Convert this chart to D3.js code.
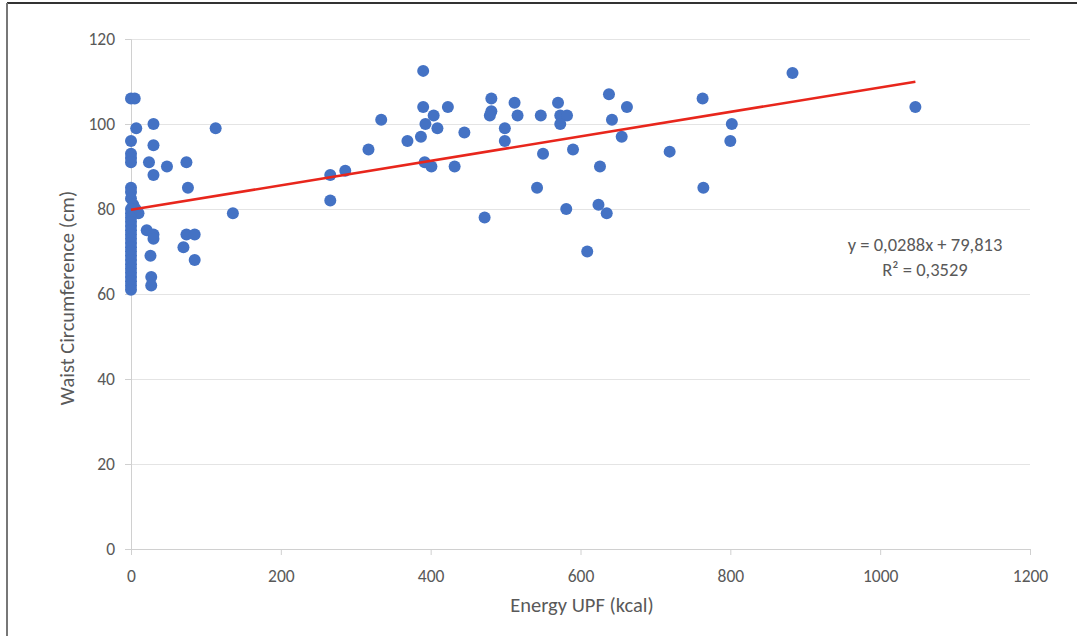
<!DOCTYPE html>
<html>
<head>
<meta charset="utf-8">
<script src="https://cdn.jsdelivr.net/npm/d3@7"></script>
<style>
  body { margin: 0; background: #fff; }
  text { font-family: Carlito, "Liberation Sans Narrow", "Open Sans", sans-serif; fill: #595959; }
</style>
</head>
<body>
<div id="chart"></div>
<script>
// energy from UPF (kcal) and waist circumference (cm)
var energy = [
  0, 5, 7, 0, 0, 0, 0, 0, 0, 0, 3, 6, 10,
  0, 0, 0, 0, 0, 0, 0, 0, 0, 0, 0, 0, 0, 0, 0, 0, 0, 0, 0, 0,
  30, 30, 24, 30, 48, 74, 76, 113, 136,
  21, 30, 30, 74, 85, 70, 85, 26, 27, 27,
  266, 286, 266, 317, 334, 369, 387, 390, 390, 404, 393, 409, 423, 445, 392, 401, 432,
  472, 481, 481, 479, 512, 516, 499, 499, 547, 550, 542, 570, 573, 582, 573, 590, 581,
  638, 662, 642, 655, 626, 624, 635, 609, 719, 763, 802, 800, 764, 883, 1047
];
var waist = [
  106, 106, 99, 96, 93, 92, 91, 85, 84, 82.5, 81, 80, 79,
  80, 79, 78, 77, 76, 75, 74, 73, 72, 71, 70, 69, 68, 67, 66, 65, 64, 63, 62, 61,
  100, 95, 91, 88, 90, 91, 85, 99, 79,
  75, 74, 73, 74, 74, 71, 68, 69, 64, 62,
  88, 89, 82, 94, 101, 96, 97, 112.5, 104, 102, 100, 99, 104, 98, 91, 90, 90,
  78, 106, 103, 102, 105, 102, 99, 96, 102, 93, 85, 105, 102, 102, 100, 94, 80,
  107, 104, 101, 97, 90, 81, 79, 70, 93.5, 106, 100, 96, 85, 112, 104
];
var xTicks = [0, 200, 400, 600, 800, 1000, 1200];
var yTicks = [0, 20, 40, 60, 80, 100, 120];
var slope = 0.0288;
var intercept = 79.813;
var eqLines = ["y = 0,0288x + 79,813", "R² = 0,3529"];

var W = 1077, H = 636;
var margin = {top: 39, right: 47, bottom: 87, left: 131};

var svg = d3.select("#chart").append("svg")
    .attr("width", W)
    .attr("height", H);

// frame of the original figure
svg.append("line").attr("x1", 7).attr("x2", W).attr("y1", 3).attr("y2", 3)
    .attr("stroke", "#333").attr("stroke-width", 2);
svg.append("line").attr("x1", 7).attr("x2", 7).attr("y1", 3).attr("y2", H)
    .attr("stroke", "#777").attr("stroke-width", 2);

var x = d3.scaleLinear().domain([0, 1200]).range([margin.left, W - margin.right]);
var y = d3.scaleLinear().domain([0, 120]).range([H - margin.bottom, margin.top]);

// gridlines
svg.append("g")
    .attr("class", "grid")
    .attr("transform", "translate(" + margin.left + ",0)")
    .call(d3.axisLeft(y).tickValues(yTicks.slice(1)).tickSize(-(W - margin.right - margin.left)).tickFormat(""))
    .call(function(g) { g.select(".domain").remove(); })
    .selectAll("line").attr("stroke", "#e4e4e4");

// x axis
var xAxis = svg.append("g")
    .attr("transform", "translate(0," + (H - margin.bottom) + ")")
    .call(d3.axisBottom(x).tickValues(xTicks).tickFormat(d3.format("d")).tickSize(6).tickPadding(15));
xAxis.select(".domain").attr("stroke", "#d0d0d0");
xAxis.selectAll("line").attr("stroke", "#d0d0d0");
xAxis.selectAll("text").attr("font-size", 17.5).style("fill", "#595959");

// y axis
var yAxis = svg.append("g")
    .attr("transform", "translate(" + margin.left + ",0)")
    .call(d3.axisLeft(y).tickValues(yTicks).tickSize(6).tickPadding(10));
yAxis.select(".domain").attr("stroke", "#d0d0d0");
yAxis.selectAll("line").attr("stroke", "#d0d0d0");
yAxis.selectAll("text").attr("font-size", 17.5).style("fill", "#595959");

// points
svg.append("g").selectAll("circle")
    .data(energy.map(function(d, i) { return {x: d, y: waist[i]}; }))
    .enter().append("circle")
    .attr("cx", function(d) { return x(d.x); })
    .attr("cy", function(d) { return y(d.y); })
    .attr("r", 6)
    .attr("fill", "#4472c4");

// trend line
var xmax = d3.max(energy);
svg.append("line")
    .attr("x1", x(0)).attr("y1", y(intercept))
    .attr("x2", x(xmax)).attr("y2", y(intercept + slope * xmax))
    .attr("stroke", "#e8261c")
    .attr("stroke-width", 2.5);

// equation
svg.append("g").selectAll("text")
    .data(eqLines).enter().append("text")
    .attr("x", 925)
    .attr("y", function(d, i) { return 251 + i * 25; })
    .attr("text-anchor", "middle")
    .attr("font-size", 18.5)
    .text(function(d) { return d; });

// axis titles
svg.append("text")
    .attr("x", 582)
    .attr("y", 612)
    .attr("text-anchor", "middle")
    .attr("font-size", 20.5)
    .text("Energy UPF (kcal)");

svg.append("text")
    .attr("transform", "translate(74,298) rotate(-90)")
    .attr("text-anchor", "middle")
    .attr("font-size", 20.5)
    .text("Waist Circumference (cm)");
</script>
</body>
</html>
